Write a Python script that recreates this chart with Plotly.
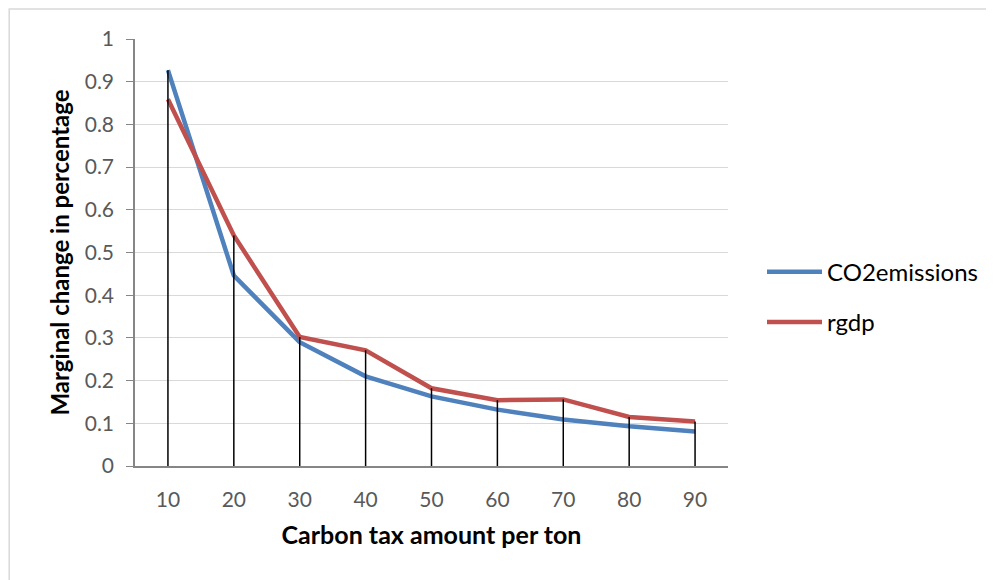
import plotly.graph_objects as go

tax = [10, 20, 30, 40, 50, 60, 70, 80, 90]
tick_labels = ["10", "20", "30", "40", "50", "60", "70", "80", "90"]
co2 = [0.927, 0.446, 0.290, 0.210, 0.163, 0.132, 0.109, 0.093, 0.081]
rgdp = [0.859, 0.540, 0.302, 0.271, 0.182, 0.154, 0.156, 0.115, 0.104]

FONT = "Lato"
OFF = 8  # page body margin
W, H = 994 - OFF, 580 - OFF
L, T = 135 - OFF, 39 - OFF
pw, ph = 594, 427.5
R = W - L - pw
B = H - T - ph

fig = go.Figure()
fig.add_trace(go.Scatter(x=tax, y=co2, mode="lines", name="CO2emissions",
                         line=dict(color="#4F81BD", width=4.5), legendgroup="a"))
fig.add_trace(go.Scatter(x=tax, y=rgdp, mode="lines", name="rgdp",
                         line=dict(color="#C0504D", width=4.5), legendgroup="b"))

# drop lines from the top of the highest series down to zero
dx, dy = [], []
for x, a, b in zip(tax, co2, rgdp):
    dx += [x, x, None]
    dy += [0, max(a, b), None]
fig.add_trace(go.Scatter(x=dx, y=dy, mode="lines", showlegend=False,
                         line=dict(color="black", width=1.5), hoverinfo="skip"))

# reference-pixel -> paper coordinates (plot area at x 135..729, y 39..466.5)
def px_x(p):
    return (p - 135) / pw

def px_y(p):
    return (466.5 - p) / ph

fig.update_layout(
    width=W, height=H,
    margin=dict(l=L, r=R, t=T, b=B),
    paper_bgcolor="white", plot_bgcolor="white",
    font=dict(family=FONT, color="#595959"),
    showlegend=True,
    legend=dict(x=px_x(762), y=px_y(250), xanchor="left", yanchor="top",
                font=dict(family=FONT, size=24, color="#000000"),
                tracegroupgap=16, traceorder="grouped", itemwidth=55,
                bgcolor="rgba(0,0,0,0)"),
    xaxis=dict(range=[5, 95], tickmode="array", tickvals=tax, ticktext=tick_labels,
               showgrid=False, zeroline=False, showline=True, linecolor="#868686",
               linewidth=1.5, ticks="", ticklabelstandoff=14,
               tickfont=dict(family=FONT, size=21, color="#595959"),
               title=dict(text="<b>Carbon tax amount per ton</b>", standoff=17,
                          font=dict(family=FONT, size=25, color="#000000"))),
    yaxis=dict(range=[0, 1], tickmode="array",
               tickvals=[0, 0.1, 0.2, 0.3, 0.4, 0.5, 0.6, 0.7, 0.8, 0.9, 1],
               showgrid=True, gridcolor="#D9D9D9", gridwidth=1.3,
               zeroline=False, showline=True, linecolor="#868686", linewidth=1.5,
               ticks="outside", ticklen=7, tickcolor="#868686", tickwidth=1.3,
               ticklabelstandoff=8,
               tickfont=dict(family=FONT, size=21, color="#595959"),
               title=dict(text="<b>Marginal change in percentage</b>", standoff=8,
                          font=dict(family=FONT, size=24, color="#000000"))),
    shapes=[dict(type="rect", xref="paper", yref="paper",
                 x0=px_x(9), y0=px_y(620), x1=px_x(1030), y1=px_y(9),
                 line=dict(color="#D9D9D9", width=1.5), layer="below")],
)

fig.write_html("out.html")
